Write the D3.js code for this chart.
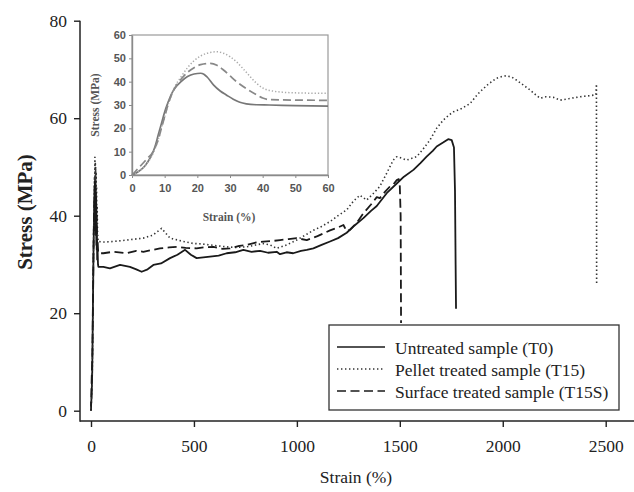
<!DOCTYPE html>
<html><head><meta charset="utf-8">
<script src="https://cdn.jsdelivr.net/npm/d3@7"></script>
<style>body{margin:0;background:#fff}svg{display:block}</style>
</head><body>
<svg id="c" width="634" height="492"></svg>
<script>
// ---------- DATA ----------
const seriesNames = ["Untreated sample (T0)", "Pellet treated sample (T15)", "Surface treated sample (T15S)"];
const xTicks = [0, 500, 1000, 1500, 2000, 2500];
const yTicks = [0, 20, 40, 60, 80];
const insetTicks = [0, 10, 20, 30, 40, 50, 60];

// main chart: [strain %, stress MPa]
const t0 = [[0,1],[3,3],[6,8],[9,20],[12,32],[15,40],[17,44],[18,38],[19,45],[20,40],[21,44.5],[22,37],[23,43],[24,36],[25,42],[26,34],[27,39],[28,33],[29,36],[30,31],[32,33],[34,30],[36,29.5],
[60,29.5],[92,29.2],[141,29.9],[189,29.5],[220,29],[246,28.5],[275,29],[303,29.9],[340,30.2],[384,31.3],[420,32],[457,33],[485,32],[513,31.3],[578,31.6],[620,31.8],[659,32.3],[700,32.5],[740,33],[780,32.6],[821,32.8],[860,32.4],[902,32.6],[918,32.1],[950,32.5],[982,32.3],[1020,32.8],[1048,33],[1080,33.3],[1120,34],[1161,34.7],[1200,35.4],[1242,36.5],[1280,38],[1323,39.5],[1360,41],[1388,42],[1403,42.8],[1440,44.8],[1485,46.6],[1520,48],[1566,49.4],[1600,50.8],[1630,52.1],[1660,53.3],[1679,54.2],[1710,55],[1735,55.7],[1752,55.5],[1763,54],[1768,45],[1771,30],[1773,20.9]];

const t15 = [[0,0],[4,4],[7,10],[10,25],[13,37],[15,42],[17,48],[18,44],[19,52],[20,46],[21,51],[22,45],[23,50],[24,43],[25,49],[26,41],[27,46],[28,39],[30,42],[32,36],[35,34.7],
[60,34.6],[108,34.7],[173,35],[254,35.4],[300,36],[343,37.4],[384,35.4],[440,34.8],[497,34.3],[540,34.2],[578,34],[620,33.8],[659,33.6],[700,33.5],[756,33.6],[800,34],[837,34.3],[870,34],[902,33.3],[950,34],[999,35],[1040,36],[1080,37],[1120,37.8],[1161,38.8],[1200,40],[1242,41.2],[1275,43],[1306,44.2],[1339,43.2],[1370,44.5],[1403,46],[1436,48.7],[1468,51.4],[1485,52.1],[1510,51.8],[1533,51.4],[1560,51.8],[1582,52.1],[1610,53.5],[1646,55.5],[1680,58],[1711,59.6],[1740,60.7],[1760,61.3],[1800,62],[1841,63],[1870,64.5],[1889,65.4],[1930,67],[1970,68.2],[2000,68.6],[2019,68.7],[2045,68.4],[2067,67.8],[2100,66.8],[2132,65.8],[2160,64.8],[2181,64.1],[2210,64.4],[2245,64.3],[2278,63.7],[2320,64],[2375,64.4],[2420,64.6],[2452,64.8],[2455,67],[2456,26]];

const t15s = [[0,0],[3,6],[5,9],[7,12],[10,24],[13,36],[15,41],[17,46],[18,40],[19,47],[20,42],[21,46],[22,38],[23,45],[24,39],[25,44],[26,36],[28,40],[30,34],[32,35],[35,32.3],
[60,32.3],[108,32.6],[173,32.3],[220,32.8],[254,32.6],[300,33],[335,33.3],[380,33.5],[416,33.6],[460,33.4],[513,33.3],[550,33.5],[594,33.6],[640,33.2],[675,33.3],[720,33.8],[756,34],[800,34.5],[837,34.7],[880,34.8],[918,35],[960,35.2],[999,35.4],[1048,35],[1100,35.8],[1161,37],[1200,37.6],[1226,38.1],[1242,36.8],[1258,37.1],[1290,38.5],[1323,40.5],[1360,42.3],[1388,43.8],[1403,43.6],[1430,45],[1452,46],[1470,46.5],[1485,47.3],[1495,47.5],[1500,46],[1504,40],[1506,18]];

// inset: [strain %, stress MPa]
const t0In = [[0,0],[2,1.5],[4,4],[5,6],[6,8.5],[7,12],[8,17],[9,22],[10,27],[11,31],[12,34.5],[13,37],[15,40],[17,42.2],[19,43.3],[21,43.6],[22,43.2],[23,42],[25,38.5],[27,36],[29,34.2],[31,32.5],[33,31.2],[35,30.5],[38,30.1],[42,30],[50,29.7],[60,29.5]];
const t15sIn = [[0,0],[1,1.5],[3,4.5],[5,7.5],[6,9],[7,11.5],[8,15],[9,20],[10,25],[11,30],[12,34],[13,37],[15,41],[17,44],[19,46],[21,47.3],[24,47.8],[26,47],[28,45],[30,42.5],[32,40],[35,37],[38,34.5],[40,33],[42,32.3],[50,32.1],[60,32]];
const t15In = [[0,0],[2,1.5],[4,4],[6,8],[7,11],[8,15],[9,20],[10,25],[11,30],[12,34],[13,37.5],[15,42],[17,46],[19,49],[21,51],[23,52.2],[26,52.8],[28,52.2],[30,50.7],[32,48.5],[35,44],[38,39.5],[40,37.3],[43,36],[46,35.5],[50,35.2],[60,35]];

// ---------- DRAW ----------
const svg = d3.select("#c");
const serif = "'Liberation Serif','Times New Roman',serif";
const ink = "#222";

const x = d3.scaleLinear().domain([0, 2500]).range([91, 605.7]);
const y = d3.scaleLinear().domain([0, 80]).range([410.7, 20.7]);
const xAxisY = 421, yAxisX = 80;

// axes
const gy = svg.append("g").attr("transform", `translate(${yAxisX},0)`)
  .call(d3.axisLeft(y).tickValues(yTicks).tickFormat(d3.format("d")).tickSize(6).tickSizeOuter(0).tickPadding(7));
gy.select(".domain").remove();
const gx = svg.append("g").attr("transform", `translate(0,${xAxisY})`)
  .call(d3.axisBottom(x).tickValues(xTicks).tickFormat(d3.format("d")).tickSize(6).tickSizeOuter(0).tickPadding(13));
gx.select(".domain").remove();
[gx, gy].forEach(g => {
  g.selectAll("line").attr("stroke", ink).attr("stroke-width", 1.4);
  g.selectAll("text").attr("font-family", serif).attr("font-size", 17.5).attr("fill", ink);
});
svg.append("line").attr("x1", yAxisX).attr("x2", yAxisX).attr("y1", y(80)).attr("y2", xAxisY + 0.7)
  .attr("stroke", ink).attr("stroke-width", 1.5);
svg.append("line").attr("x1", yAxisX).attr("x2", 634).attr("y1", xAxisY).attr("y2", xAxisY)
  .attr("stroke", ink).attr("stroke-width", 1.5);

svg.append("text").attr("x", 356).attr("y", 477).attr("text-anchor", "middle").attr("dominant-baseline", "central")
  .attr("font-family", serif).attr("font-size", 17.5).attr("fill", ink).text("Strain (%)");
svg.append("text").attr("transform", "translate(25,212) rotate(-90)").attr("text-anchor", "middle")
  .attr("dominant-baseline", "central").attr("font-family", serif).attr("font-size", 21)
  .attr("font-weight", "bold").attr("fill", ink).text("Stress (MPa)");

// main curves
const styles = [
  {data: t0, dash: null, w: 1.8, c: "#1a1a1a"},
  {data: t15, dash: "1.4,2.6", w: 1.6, c: "#333"},
  {data: t15s, dash: "9,4.5", w: 1.8, c: "#1a1a1a"}
];
const line = d3.line().x(d => x(d[0])).y(d => y(d[1]));
styles.forEach(s => {
  svg.append("path").attr("d", line(s.data)).attr("fill", "none").attr("stroke", s.c)
    .attr("stroke-width", s.w).attr("stroke-dasharray", s.dash).attr("stroke-linejoin", "round");
});

// legend
const lg = svg.append("g");
lg.append("rect").attr("x", 329).attr("y", 325).attr("width", 290).attr("height", 85)
  .attr("fill", "#fff").attr("stroke", "#333").attr("stroke-width", 1.3);
seriesNames.forEach((n, i) => {
  const yy = 347 + i * 22;
  const s = styles[i];
  lg.append("line").attr("x1", 337).attr("x2", 385).attr("y1", yy).attr("y2", yy)
    .attr("stroke", s.c).attr("stroke-width", s.w * 0.8).attr("stroke-dasharray", s.dash);
  lg.append("text").attr("x", 395).attr("y", yy + 1).attr("dominant-baseline", "central")
    .attr("font-family", serif).attr("font-size", 17.5).attr("fill", ink).text(n);
});

// inset
const ix = d3.scaleLinear().domain([0, 60]).range([132, 328]);
const iy = d3.scaleLinear().domain([0, 60]).range([175, 35]);
const ig = svg.append("g");
ig.append("rect").attr("x", 132).attr("y", 35).attr("width", 196).attr("height", 140)
  .attr("fill", "#fff").attr("stroke", "#9a9a9a").attr("stroke-width", 1.2);
const sans = "'Liberation Sans',Arial,sans-serif";
const giy = ig.append("g").attr("transform", "translate(132,0)")
  .call(d3.axisLeft(iy).tickValues(insetTicks).tickSize(3).tickSizeOuter(0).tickPadding(3));
const gix = ig.append("g").attr("transform", "translate(0,175)")
  .call(d3.axisBottom(ix).tickValues(insetTicks).tickSize(3).tickSizeOuter(0).tickPadding(6));
[giy, gix].forEach(g => {
  g.select(".domain").attr("stroke", "#8a8a8a").attr("stroke-width", 1.4);
  g.selectAll("line").attr("stroke", "#8a8a8a");
  g.selectAll("text").attr("font-family", sans).attr("font-size", 11).attr("font-weight", "bold").attr("fill", "#555");
});
ig.append("text").attr("transform", "translate(95,105) rotate(-90)").attr("text-anchor", "middle")
  .attr("dominant-baseline", "central").attr("font-family", serif).attr("font-size", 11.5)
  .attr("font-weight", "bold").attr("fill", "#555").text("Stress (MPa)");
ig.append("text").attr("x", 229).attr("y", 217).attr("text-anchor", "middle").attr("dominant-baseline", "central")
  .attr("font-family", serif).attr("font-size", 11.5).attr("font-weight", "bold").attr("fill", "#555").text("Strain (%)");
const iline = d3.line().x(d => ix(d[0])).y(d => iy(d[1])).curve(d3.curveMonotoneX);
[{d: t0In, dash: null, c: "#777", w: 1.7},
 {d: t15In, dash: "1.3,2", c: "#aaa", w: 1.5},
 {d: t15sIn, dash: "8,4", c: "#888", w: 1.7}].forEach(s => {
  ig.append("path").attr("d", iline(s.d)).attr("fill", "none").attr("stroke", s.c)
    .attr("stroke-width", s.w).attr("stroke-dasharray", s.dash);
});
</script>
</body></html>
